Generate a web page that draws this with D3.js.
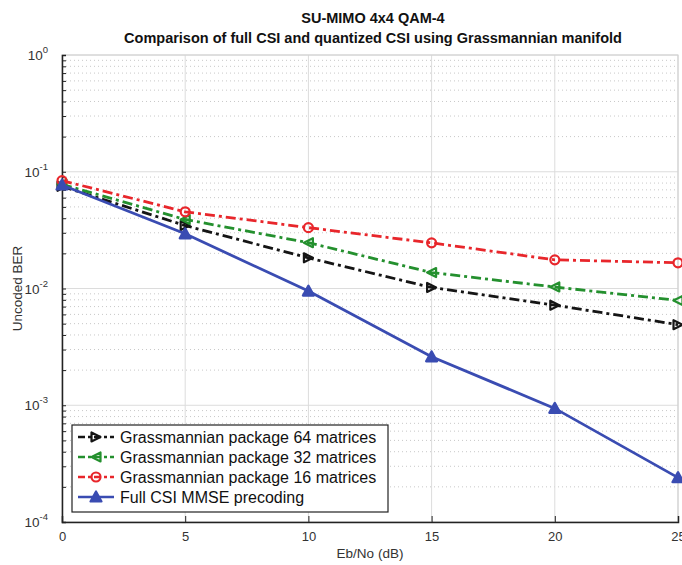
<!DOCTYPE html>
<html>
<head>
<meta charset="utf-8">
<script src="https://cdn.jsdelivr.net/npm/d3@7"></script>
<style>
  body { margin: 0; background: #fff; }
  text { font-family: "Liberation Sans", Arial, sans-serif; }
</style>
</head>
<body>
<div id="container"></div>
<script>
const snr = [0, 5, 10, 15, 20, 25],
  ber64 = [0.075, 0.0346, 0.0183, 0.0102, 0.0072, 0.0049],
  ber32 = [0.078, 0.039, 0.0247, 0.0137, 0.0103, 0.0079],
  ber16 = [0.084, 0.0454, 0.0332, 0.0246, 0.0176, 0.0166],
  berFull = [0.077, 0.0294, 0.0095, 0.0026, 0.00094, 0.00024],
  xTicks = [0, 5, 10, 15, 20, 25],
  yExps = [0, -1, -2, -3, -4],
  seriesNames = ['Grassmannian package 64 matrices', 'Grassmannian package 32 matrices',
    'Grassmannian package 16 matrices', 'Full CSI MMSE precoding'];

const dims = { width: 682, height: 565, margin: { left: 62, right: 4, top: 55, bottom: 43 } },
  pw = dims.width - dims.margin.left - dims.margin.right,
  ph = dims.height - dims.margin.top - dims.margin.bottom;

const series = [
  { name: seriesNames[0], values: ber64, color: '#151515', marker: 'right', dash: '10,4,3,4' },
  { name: seriesNames[1], values: ber32, color: '#24902e', marker: 'left', dash: '10,4,3,4' },
  { name: seriesNames[2], values: ber16, color: '#e8262b', marker: 'circle', dash: '10,4,3,4' },
  { name: seriesNames[3], values: berFull, color: '#3a4cb2', marker: 'up', dash: null }
];

const svg = d3.select('#container').append('svg')
  .attr('width', dims.width).attr('height', dims.height);
const g = svg.append('g')
  .attr('transform', `translate(${dims.margin.left},${dims.margin.top})`);

const x = d3.scaleLinear().domain([0, 25]).range([0, pw]),
  y = d3.scaleLog().domain([1e-4, 1]).range([ph, 0]);

// minor grid (dotted)
const minors = [];
yExps.slice(1).forEach(e => { for (let k = 2; k <= 9; k++) minors.push(k * Math.pow(10, e)); });
g.append('g').selectAll('line').data(minors).enter().append('line')
  .attr('x1', 0).attr('x2', pw)
  .attr('y1', d => y(d)).attr('y2', d => y(d))
  .attr('stroke', '#c8c8c8').attr('stroke-width', 1).attr('stroke-dasharray', '1,3');

// major grid
g.append('g').selectAll('line').data(yExps.map(e => Math.pow(10, e))).enter().append('line')
  .attr('x1', 0).attr('x2', pw)
  .attr('y1', d => y(d)).attr('y2', d => y(d))
  .attr('stroke', '#dcdcdc').attr('stroke-width', 1);
g.append('g').selectAll('line').data(xTicks).enter().append('line')
  .attr('x1', d => x(d)).attr('x2', d => x(d))
  .attr('y1', 0).attr('y2', ph)
  .attr('stroke', '#dcdcdc').attr('stroke-width', 1);

// light box at top/right
g.append('rect').attr('x', 0).attr('y', 0).attr('width', pw).attr('height', ph)
  .attr('fill', 'none').attr('stroke', '#cfcfcf');

// axes
const xAxis = d3.axisBottom(x).tickValues(xTicks).tickSize(-6).tickPadding(10);
g.append('g').attr('transform', `translate(0,${ph})`).call(xAxis)
  .call(s => s.select('.domain').attr('stroke', '#222').attr('stroke-width', 1.5))
  .call(s => s.selectAll('.tick line').attr('stroke', '#222'))
  .call(s => s.selectAll('.tick text').attr('font-size', 13).attr('fill', '#333')
    .attr('font-family', '"Liberation Sans", Arial, sans-serif'));

const yAxis = d3.axisLeft(y).tickValues(minors.concat(yExps.map(e => Math.pow(10, e))))
  .tickSize(-4).tickFormat('');
const ya = g.append('g').call(yAxis);
ya.select('.domain').attr('stroke', '#222').attr('stroke-width', 1.5);
ya.selectAll('.tick line').attr('stroke', '#222');
const yl = g.append('g').selectAll('text').data(yExps).enter().append('text')
  .attr('x', -14).attr('y', d => y(Math.pow(10, d)) + 5)
  .attr('text-anchor', 'end').attr('font-size', 13.5).attr('fill', '#333');
yl.append('tspan').text('10');
yl.append('tspan').attr('dy', -7).attr('font-size', 9.5).text(d => d);

// lines
const line = d3.line().x((d, i) => x(snr[i])).y(d => y(d));

function drawMarker(sel, type, color, cx, cy) {
  const r = 4.5;
  if (type === 'circle') {
    sel.append('circle').attr('cx', cx).attr('cy', cy).attr('r', r)
      .attr('fill', 'none').attr('stroke', color).attr('stroke-width', 2.2);
  } else {
    let pts;
    if (type === 'right') pts = [[cx + r, cy], [cx - r, cy - r], [cx - r, cy + r]];
    if (type === 'left') pts = [[cx - r, cy], [cx + r, cy - r], [cx + r, cy + r]];
    if (type === 'up') pts = [[cx, cy - r - 1], [cx - r - 1, cy + r], [cx + r + 1, cy + r]];
    sel.append('polygon').attr('points', pts.map(p => p.join(',')).join(' '))
      .attr('fill', type === 'up' ? color : 'none')
      .attr('stroke', color).attr('stroke-width', 2.2).attr('stroke-linejoin', 'round');
  }
}

const plot = g.append('g');
series.forEach(s => {
  plot.append('path').datum(s.values).attr('d', line)
    .attr('fill', 'none').attr('stroke', s.color).attr('stroke-width', 2.8)
    .attr('stroke-dasharray', s.dash);
  const mg = plot.append('g');
  s.values.forEach((v, i) => drawMarker(mg, s.marker, s.color, x(snr[i]), y(v)));
});

// legend
const lg = svg.append('g').attr('transform', 'translate(72,425)');
lg.append('rect').attr('width', 316).attr('height', 87)
  .attr('fill', '#fff').attr('stroke', '#222').attr('stroke-width', 1.2);
series.forEach((s, i) => {
  const ly = 12 + i * 20;
  lg.append('line').attr('x1', 6).attr('x2', 42).attr('y1', ly).attr('y2', ly)
    .attr('stroke', s.color).attr('stroke-width', 2.6)
    .attr('stroke-dasharray', s.dash ? '7,3,3,3' : null);
  drawMarker(lg, s.marker, s.color, 24, ly);
  lg.append('text').attr('x', 48).attr('y', ly + 5.5)
    .attr('font-size', 16).attr('fill', '#111').text(s.name);
});

// titles
svg.append('text').attr('x', 373).attr('y', 23).attr('text-anchor', 'middle')
  .attr('font-size', 14.5).attr('font-weight', 'bold').attr('fill', '#111')
  .text('SU-MIMO 4x4 QAM-4');
svg.append('text').attr('x', 373).attr('y', 43).attr('text-anchor', 'middle')
  .attr('font-size', 14.5).attr('font-weight', 'bold').attr('fill', '#111')
  .text('Comparison of full CSI and quantized CSI using Grassmannian manifold');
svg.append('text').attr('x', dims.margin.left + pw / 2).attr('y', 558)
  .attr('text-anchor', 'middle').attr('font-size', 13.5).attr('fill', '#333')
  .text('Eb/No (dB)');
svg.append('text').attr('transform', `translate(22,${dims.margin.top + ph / 2}) rotate(-90)`)
  .attr('text-anchor', 'middle').attr('font-size', 13.5).attr('fill', '#333')
  .text('Uncoded BER');
</script>
</body>
</html>
